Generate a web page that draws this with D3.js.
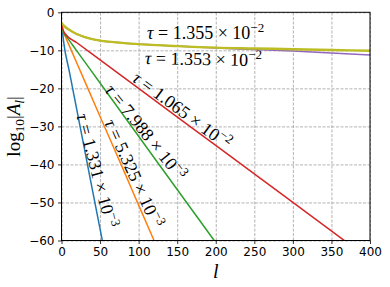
<!DOCTYPE html>
<html>
<head>
<meta charset="utf-8">
<script src="https://cdn.jsdelivr.net/npm/d3@7"></script>
<style>
	body { margin: 0; background: #fff; }
	svg { display: block; }
	.tick text { font-family: "DejaVu Sans", sans-serif; font-size: 12px; fill: #000; }
	.math { font-family: "Liberation Serif", serif; fill: #000; }
</style>
</head>
<body>
<div id="chart"></div>
<script>
// log10|A_l|, as [l, value]
const bluePoints = [[0, -2.8], [1, -4.6], [3, -8.1], [10, -15.4], [20, -25.8], [30, -36.2], [40, -46.6], [53, -60.1]];
const orangePoints = [[0, -2.8], [2, -5.0], [5, -6.4], [20, -13.4], [50, -27.4], [80, -41.3], [100, -50.7], [120, -60.0]];
const greenPoints = [[0, -2.8], [2, -5.2], [5, -6.0], [20, -10.2], [50, -18.6], [100, -32.6], [150, -46.6], [198, -60.0]];
const redPoints = [[0, -2.8], [2, -4.6], [5, -5.7], [20, -8.0], [50, -12.5], [100, -20.0], [200, -35.0], [300, -50.0], [370, -60.5]];
const purplePoints = [[0, -2.8], [4.5, -3.8], [10, -4.6], [17.5, -5.5], [30, -6.5], [43, -7.2], [70, -7.9], [95, -8.3], [150, -8.9], [200, -9.4], [250, -9.8], [300, -10.2], [350, -10.7], [400, -11.2]];
const yellowPoints = [[0, -2.8], [4.5, -3.8], [10, -4.6], [17.5, -5.5], [30, -6.5], [43, -7.2], [70, -7.9], [95, -8.3], [150, -8.9], [200, -9.3], [250, -9.5], [300, -9.7], [350, -9.9], [400, -10.1]];

const tauMantissas = ["1.331", "5.325", "7.988", "1.065", "1.353", "1.355"];
const tauExponents = [-3, -3, -3, -2, -2, -2];
const xTicks = [0, 50, 100, 150, 200, 250, 300, 350, 400];
const yTicks = [0, -10, -20, -30, -40, -50, -60];

const colors = ["#1f77b4", "#ff7f0e", "#2ca02c", "#d62728", "#9467bd", "#bcbd22"];
const allPoints = [bluePoints, orangePoints, greenPoints, redPoints, purplePoints, yellowPoints];
// where each label sits: l along the line for the slanted ones, [l, value] for the flat ones
const slantedLabelAt = [35.7, 84, 101, 150];
const slantedLabelTurn = [-3.5, -1, -3, 0];
const flatLabelAt = [null, null, null, null, [108, -13.6], [111, -7.0]];
const flatLabelTurn = [0, 0, 0, 0, 1, 0];

const fullWidth = 390, fullHeight = 287;
const margin = { top: 12.3, right: 20, bottom: 46.5, left: 61.5 };
const width = fullWidth - margin.left - margin.right;
const height = fullHeight - margin.top - margin.bottom;

const svg = d3.select("#chart").append("svg")
	.attr("width", fullWidth)
	.attr("height", fullHeight);
const g = svg.append("g")
	.attr("transform", "translate(" + margin.left + "," + margin.top + ")");

const x = d3.scaleLinear().domain([0, 400]).range([0, width]);
const y = d3.scaleLinear().domain([-60, 0]).range([height, 0]);

// grid
g.append("g")
	.attr("transform", "translate(0," + height + ")")
	.call(d3.axisBottom(x).tickValues(xTicks).tickSize(-height).tickFormat(""))
	.call(s => s.select(".domain").remove());
g.append("g")
	.call(d3.axisLeft(y).tickValues(yTicks).tickSize(-width).tickFormat(""))
	.call(s => s.select(".domain").remove());
g.selectAll(".tick line")
	.attr("stroke", "#a0a0a0")
	.attr("stroke-width", 0.8)
	.attr("stroke-dasharray", "3,1.5");

// lines
svg.append("defs").append("clipPath").attr("id", "clip")
	.append("rect").attr("width", width).attr("height", height);
const line = d3.line()
	.x(d => x(d[0]))
	.y(d => y(d[1]))
	.curve(d3.curveMonotoneX);
const lines = g.append("g").attr("clip-path", "url(#clip)");
allPoints.forEach((pts, i) => {
	lines.append("path")
		.datum(pts)
		.attr("d", line)
		.attr("fill", "none")
		.attr("stroke", colors[i])
		.attr("stroke-width", i === 5 ? 2.4 : 1.5);
});

// frame
g.append("rect")
	.attr("width", width).attr("height", height)
	.attr("fill", "none").attr("stroke", "#000").attr("stroke-width", 1);

// axes
const xAxis = g.append("g")
	.attr("transform", "translate(0," + height + ")")
	.call(d3.axisBottom(x).tickValues(xTicks).tickSize(3.5).tickPadding(3.5));
const yAxis = g.append("g")
	.call(d3.axisLeft(y).tickValues(yTicks).tickSize(3.5).tickPadding(3.5));
[xAxis, yAxis].forEach(a => {
	a.select(".domain").remove();
	a.selectAll(".tick line").attr("stroke", "#000").attr("stroke-width", 0.8);
});

function tauText(sel, i) {
	sel.append("tspan").style("font-style", "italic").text("τ");
	sel.append("tspan").text(" = " + tauMantissas[i] + " × 10");
	sel.append("tspan").attr("dy", -7).attr("font-size", "0.72em").text("−" + Math.abs(tauExponents[i]));
}

function interp(pts, l) {
	for (let k = 1; k < pts.length; k++) {
		if (pts[k][0] >= l) {
			const t = (l - pts[k - 1][0]) / (pts[k][0] - pts[k - 1][0]);
			return pts[k - 1][1] + t * (pts[k][1] - pts[k - 1][1]);
		}
	}
	return pts[pts.length - 1][1];
}

const labels = g.append("g").attr("class", "math").attr("font-size", 18);
slantedLabelAt.forEach((l, i) => {
	const pts = allPoints[i];
	const px = x(l), py = y(interp(pts, l));
	const dx = x(l + 5) - x(l - 5);
	const dy = y(interp(pts, l + 5)) - y(interp(pts, l - 5));
	const angle = Math.atan2(dy, dx) * 180 / Math.PI + slantedLabelTurn[i];
	labels.append("text")
		.attr("transform", "translate(" + px + "," + py + ") rotate(" + angle + ")")
		.attr("text-anchor", "middle")
		.attr("y", -2)
		.call(tauText, i);
});
flatLabelAt.forEach((p, i) => {
	if (!p) return;
	labels.append("text")
		.attr("transform", "translate(" + x(p[0]) + "," + y(p[1]) + ") rotate(" + flatLabelTurn[i] + ")")
		.call(tauText, i);
});

// axis titles
const yLabel = svg.append("text")
	.attr("class", "math")
	.attr("font-size", 19)
	.attr("text-anchor", "middle")
	.attr("transform", "translate(20," + (margin.top + height / 2) + ") rotate(-90)");
yLabel.append("tspan").text("log");
yLabel.append("tspan").attr("dy", 4).attr("font-size", "0.7em").text("10");
yLabel.append("tspan").attr("dy", -4).text("|");
yLabel.append("tspan").style("font-style", "italic").text("A");
yLabel.append("tspan").attr("dy", 4).attr("font-size", "0.7em").style("font-style", "italic").text("l");
yLabel.append("tspan").attr("dy", -4).text("|");

svg.append("text")
	.attr("class", "math")
	.attr("font-size", 20)
	.attr("font-style", "italic")
	.attr("text-anchor", "middle")
	.attr("x", margin.left + width / 2)
	.attr("y", 278)
	.text("l");
</script>
</body>
</html>
